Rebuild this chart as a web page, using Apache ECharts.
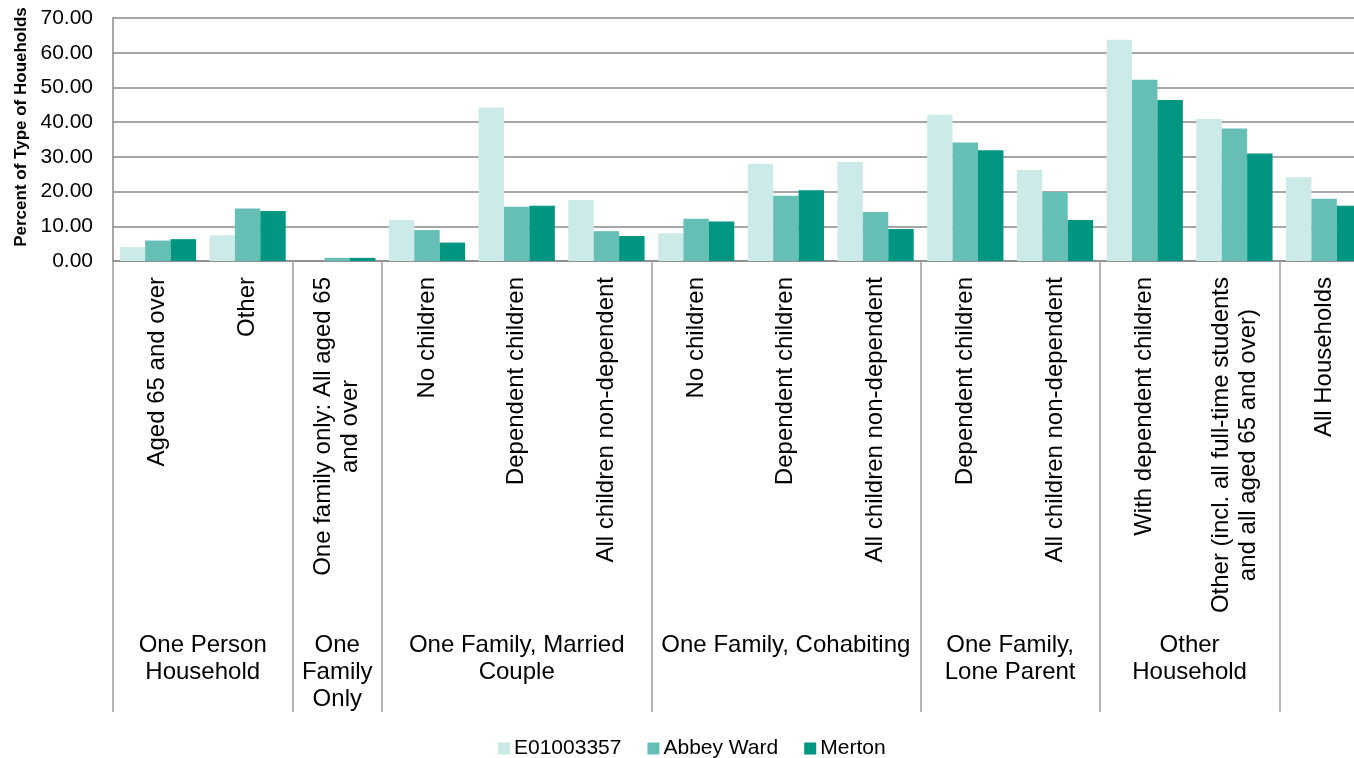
<!DOCTYPE html>
<html>
<head>
<meta charset="utf-8">
<style>
  html, body { margin: 0; padding: 0; background: #ffffff; }
  #chart { width: 1354px; height: 758px; }
</style>
<script src="https://cdn.jsdelivr.net/npm/echarts@6/dist/echarts.min.js"></script>
</head>
<body>
<div id="chart"></div>
<script>
// Household composition categories (inner axis level)
const categories = [
  'Aged 65 and over',
  'Other',
  'One family only: All aged 65\nand over',
  'No children',
  'Dependent children',
  'All children non-dependent',
  'No children',
  'Dependent children',
  'All children non-dependent',
  'Dependent children',
  'All children non-dependent',
  'With dependent children',
  'Other (incl. all full-time students\nand all aged 65 and over)',
  'All Households'
];

// Outer axis level: group names and how many categories each spans
const groupNames = [
  'One Person\nHousehold',
  'One\nFamily\nOnly',
  'One Family, Married\nCouple',
  'One Family, Cohabiting',
  'One Family,\nLone Parent',
  'Other\nHousehold',
  ''
];
const groupSpans = [2, 1, 3, 3, 2, 2, 1];

const seriesNames = ['E01003357', 'Abbey Ward', 'Merton'];

// Percent of type of households
const valuesE01003357 = [4.0, 7.4, 0, 11.8, 44.2, 17.6, 8.0, 28.0, 28.5, 42.1, 26.2, 63.7, 40.9, 24.1];
const valuesAbbeyWard = [5.9, 15.1, 0.9, 8.9, 15.6, 8.6, 12.2, 18.8, 14.1, 34.1, 19.9, 52.2, 38.2, 17.9];
const valuesMerton    = [6.3, 14.4, 0.9, 5.3, 15.9, 7.2, 11.4, 20.4, 9.2, 31.9, 11.8, 46.4, 31.0, 15.9];

const yTicks = [0, 10, 20, 30, 40, 50, 60, 70];

// Group boundaries and centres, in category units
const groupStarts = [];
const groupCentres = [];
let acc = 0;
groupSpans.forEach(function (s) {
  groupStarts.push(acc);
  groupCentres.push(acc + s / 2);
  acc += s;
});
const boundaries = groupStarts.concat([acc]);
const centreToName = {};
groupCentres.forEach(function (c, i) { centreToName[c.toFixed(2)] = groupNames[i]; });

const colors = ['#cceae7', '#66bfb4', '#009682'];
const gridColor = '#8a8a8a';
const sepColor = '#9c9c9c';
const font = 'Liberation Sans, Arial, sans-serif';

const chart = echarts.init(document.getElementById('chart'), null, { renderer: 'canvas' });

chart.setOption({
  animation: false,
  backgroundColor: '#ffffff',
  color: colors,
  textStyle: { fontFamily: font, color: '#000000' },
  grid: {
    left: 113, top: 18, bottom: 497, right: -15,
    containLabel: false,
    outerBoundsMode: 'none'
  },
  legend: {
    data: seriesNames,
    left: 493,
    top: 733,
    icon: 'rect',
    itemWidth: 12,
    itemHeight: 12,
    itemGap: 26,
    textStyle: { fontSize: 21, fontFamily: font, color: '#000000', padding: [0, 0, 0, -1] }
  },
  xAxis: [
    {
      type: 'category',
      data: categories,
      boundaryGap: true,
      axisLine: { show: true, lineStyle: { color: gridColor, width: 1.5 } },
      axisTick: {
        show: true,
        length: 352,
        lineStyle: { color: sepColor, width: 1.5 },
        interval: function (index) { return groupStarts.indexOf(index) >= 0; }
      },
      axisLabel: {
        interval: 0,
        rotate: 90,
        margin: 16,
        fontSize: 24,
        fontFamily: font,
        color: '#000000',
        formatter: function (v) {
          return v.split('\n').map(function (l) { return '{c|' + l + '}'; }).join('\n');
        },
        rich: {
          c: { align: 'center', fontSize: 24, fontFamily: font, color: '#000000', lineHeight: 27 }
        }
      },
      splitLine: { show: false }
    },
    {
      type: 'value',
      position: 'bottom',
      offset: 352,
      min: 0,
      max: categories.length,
      axisLine: { show: false },
      axisTick: {
        show: true,
        customValues: boundaries,
        length: 99,
        lineStyle: { color: sepColor, width: 1.5 }
      },
      axisLabel: {
        customValues: groupCentres,
        margin: 19,
        fontSize: 24,
        lineHeight: 27,
        fontFamily: font,
        color: '#000000',
        align: 'center',
        formatter: function (v) { return centreToName[Number(v).toFixed(2)] || ''; }
      },
      splitLine: { show: false }
    }
  ],
  yAxis: {
    type: 'value',
    min: yTicks[0],
    max: yTicks[yTicks.length - 1],
    interval: 10,
    name: 'Percent of Type of Houeholds',
    nameLocation: 'middle',
    nameGap: 83,
    nameRotate: 90,
    nameTextStyle: { fontSize: 17, fontWeight: 'bold', fontFamily: font, color: '#000000', padding: [0, 0, 0, 25] },
    axisLine: { show: true, lineStyle: { color: gridColor, width: 1.5 } },
    axisTick: { show: false },
    axisLabel: {
      margin: 20,
      fontSize: 21,
      fontFamily: font,
      color: '#000000',
      formatter: function (v) { return v.toFixed(2); }
    },
    splitLine: { show: true, lineStyle: { color: gridColor, width: 1.5 } }
  },
  series: [
    { name: seriesNames[0], type: 'bar', data: valuesE01003357, barGap: '0%', barCategoryGap: '15%' },
    { name: seriesNames[1], type: 'bar', data: valuesAbbeyWard, barGap: '0%', barCategoryGap: '15%' },
    { name: seriesNames[2], type: 'bar', data: valuesMerton, barGap: '0%', barCategoryGap: '15%' }
  ]
});
</script>
</body>
</html>
